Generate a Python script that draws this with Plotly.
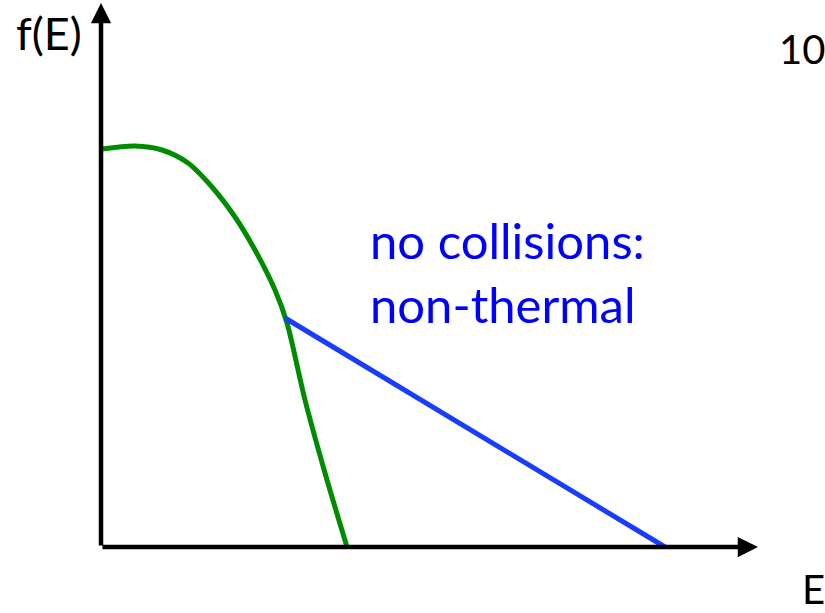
import plotly.graph_objects as go

# schematic distribution, origin at the axes corner
thermal_E = [1, 34, 61, 87, 111, 134, 154, 174, 186, 204, 224, 246]
thermal_f = [398, 401, 397, 384, 360, 330, 297, 257, 224, 147, 74, 0]

tail_E = [184, 564]
tail_f = [229, 0]

x_axis_end = 657
y_axis_end = 544

label_y = 'f(E)'
label_x = 'E'
page_no = '10'
note_lines = ['no collisions:', 'non-thermal']

fnt = 'Lato, Calibri, sans-serif'

fig = go.Figure()
fig.add_trace(go.Scatter(x=thermal_E, y=thermal_f, mode='lines', line=dict(color='#008c00', width=5, shape='spline', smoothing=0.8), hoverinfo='skip'))
fig.add_trace(go.Scatter(x=tail_E, y=tail_f, mode='lines', line=dict(color='#1a3cff', width=5), hoverinfo='skip'))

# axes with arrows
fig.add_annotation(x=x_axis_end, y=0, ax=0, ay=0, xref='x', yref='y', axref='x', ayref='y',
                   text='', showarrow=True, arrowhead=2, arrowsize=0.9, arrowwidth=4.5, arrowcolor='black')
fig.add_annotation(x=0, y=y_axis_end, ax=0, ay=0, xref='x', yref='y', axref='x', ayref='y',
                   text='', showarrow=True, arrowhead=2, arrowsize=0.9, arrowwidth=4.5, arrowcolor='black')

fig.add_annotation(x=-87, y=514, text=label_y, showarrow=False, xanchor='left', yanchor='middle',
                   font=dict(family=fnt, size=45, color='black'))
fig.add_annotation(x=699, y=-42, text=label_x, showarrow=False, xanchor='left', yanchor='middle',
                   font=dict(family=fnt, size=40, color='black'))
fig.add_annotation(x=676, y=498, text=page_no, showarrow=False, xanchor='left', yanchor='middle',
                   font=dict(family=fnt, size=40, color='black'))
fig.add_annotation(x=267, y=307, text=note_lines[0], showarrow=False, xanchor='left', yanchor='middle',
                   font=dict(family=fnt, size=49, color='blue'))
fig.add_annotation(x=267, y=243, text=note_lines[1], showarrow=False, xanchor='left', yanchor='middle',
                   font=dict(family=fnt, size=49, color='blue'))

fig.update_layout(width=825, height=613, margin=dict(l=0, r=0, t=0, b=0),
                  plot_bgcolor='white', paper_bgcolor='white', showlegend=False)
fig.update_xaxes(range=[-101, 724], visible=False)
fig.update_yaxes(range=[-66, 547], visible=False)

fig.write_html('out.html', config={'displayModeBar': False},
               post_script="document.body.style.margin='0';")
